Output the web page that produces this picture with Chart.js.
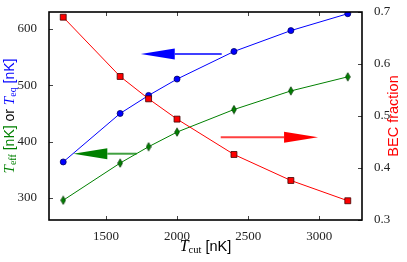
<!DOCTYPE html>
<html>
<head>
<meta charset="utf-8">
<script src="https://cdn.jsdelivr.net/npm/chart.js@4.4.0/dist/chart.umd.min.js"></script>
<style>
  html, body { margin: 0; padding: 0; background: #fff; }
  #c { display: block; }
</style>
</head>
<body>
<canvas id="c" width="407" height="262"></canvas>
<script>
// values
const tCut = [1200, 1600, 1800, 2000, 2400, 2800, 3200];
const tEq = [364, 450, 482, 511, 560, 597, 627];
const tEff = [296, 362, 391, 417, 457, 490, 515];
const becFraction = [0.690, 0.576, 0.533, 0.494, 0.426, 0.376, 0.337];

const xTicks = [1500, 2000, 2500, 3000];
const leftTicks = [300, 400, 500, 600];
const rightTicks = [0.3, 0.4, 0.5, 0.6, 0.7];

// annotation arrows, in data units (tail x, tip x, y, axis)
const arrowTailX = [2314, 1716, 2307];
const arrowTipX = [1745, 1271, 2991];
const arrowY = [555.5, 378.6, 0.459];
const arrowAxis = ['y', 'y', 'y1'];
const arrowColor = ['#0000ff', '#008000', '#ff0000'];

function toPoints(xs, ys) {
    let pts = [];
    for (let i = 0; i < xs.length; i++) {
        pts.push({x: xs[i], y: ys[i]});
    }
    return pts;
}

// thin diamond marker like matplotlib 'd'
function makeDiamond() {
    const cv = document.createElement('canvas');
    cv.width = 6;
    cv.height = 10;
    const g = cv.getContext('2d');
    g.beginPath();
    g.moveTo(3, 0.8);
    g.lineTo(5.4, 5);
    g.lineTo(3, 9.2);
    g.lineTo(0.6, 5);
    g.closePath();
    g.fillStyle = '#008000';
    g.fill();
    g.lineWidth = 0.7;
    g.strokeStyle = '#003000';
    g.stroke();
    return cv;
}

function fixTicks(values) {
    return function(scale) {
        scale.ticks = values.map(v => ({value: v}));
    };
}

const serif = "'Liberation Serif', 'DejaVu Serif', serif";
const sans = "'Liberation Sans', Arial, sans-serif";

// draw a run of text pieces one after another
function drawPieces(ctx, pieces, x, y) {
    let total = 0;
    pieces.forEach(p => { ctx.font = p.font; total += ctx.measureText(p.text).width; });
    let cx = x - total / 2;
    pieces.forEach(p => {
        ctx.font = p.font;
        ctx.fillStyle = p.color;
        ctx.fillText(p.text, cx, y + (p.dy || 0));
        cx += ctx.measureText(p.text).width;
    });
}

const decor = {
    id: 'decor',
    afterDatasetsDraw(chart) {
        const ctx = chart.ctx;
        const xs = chart.scales.x;
        ctx.save();
        for (let i = 0; i < arrowTailX.length; i++) {
            const ys = chart.scales[arrowAxis[i]];
            const x0 = xs.getPixelForValue(arrowTailX[i]);
            const x1 = xs.getPixelForValue(arrowTipX[i]);
            const y = ys.getPixelForValue(arrowY[i]);
            const dir = x1 > x0 ? 1 : -1;
            const headLen = 34;
            const half = 5.5;
            const xb = x1 - dir * headLen;
            ctx.strokeStyle = arrowColor[i];
            ctx.globalAlpha = 0.75;
            ctx.lineWidth = 2;
            ctx.beginPath();
            ctx.moveTo(x0, y);
            ctx.lineTo(xb, y);
            ctx.stroke();
            ctx.globalAlpha = 1;
            ctx.fillStyle = arrowColor[i];
            ctx.beginPath();
            ctx.moveTo(x1, y);
            ctx.lineTo(xb, y - half);
            ctx.lineTo(xb, y + half);
            ctx.closePath();
            ctx.fill();
        }
        ctx.restore();
    },
    afterDraw(chart) {
        const ctx = chart.ctx;
        const a = chart.chartArea;
        const xs = chart.scales.x, yl = chart.scales.y, yr = chart.scales.y1;
        ctx.save();
        // inward ticks
        ctx.strokeStyle = '#444';
        ctx.lineWidth = 1;
        ctx.beginPath();
        xTicks.forEach(v => {
            const px = Math.round(xs.getPixelForValue(v)) + 0.5;
            ctx.moveTo(px, a.bottom); ctx.lineTo(px, a.bottom - 4);
            ctx.moveTo(px, a.top); ctx.lineTo(px, a.top + 4);
        });
        leftTicks.forEach(v => {
            const py = Math.round(yl.getPixelForValue(v)) + 0.5;
            ctx.moveTo(a.left, py); ctx.lineTo(a.left + 4, py);
        });
        rightTicks.forEach(v => {
            const py = Math.round(yr.getPixelForValue(v)) + 0.5;
            ctx.moveTo(a.right, py); ctx.lineTo(a.right - 4, py);
        });
        ctx.stroke();
        // frame
        ctx.strokeStyle = '#000';
        ctx.lineWidth = 1.6;
        ctx.strokeRect(a.left, a.top, a.right - a.left, a.bottom - a.top);

        ctx.textBaseline = 'alphabetic';
        ctx.textAlign = 'left';
        const midX = (a.left + a.right) / 2;
        const midY = (a.top + a.bottom) / 2;
        // x title
        drawPieces(ctx, [
            {text: 'T', font: 'italic 16px ' + serif, color: '#000'},
            {text: 'cut', font: '10.5px ' + serif, color: '#000', dy: 2},
            {text: ' [nK]', font: '14.5px ' + sans, color: '#000'}
        ], midX, 251);
        // left title
        ctx.save();
        ctx.translate(14, midY);
        ctx.rotate(-Math.PI / 2);
        drawPieces(ctx, [
            {text: 'T', font: 'italic 15px ' + serif, color: '#008000'},
            {text: 'eff', font: '10px ' + serif, color: '#008000', dy: 2},
            {text: ' [nK]', font: '14px ' + sans, color: '#008000'},
            {text: ' or ', font: '14px ' + sans, color: '#000'},
            {text: 'T', font: 'italic 15px ' + serif, color: '#0000ff'},
            {text: 'eq', font: '10px ' + serif, color: '#0000ff', dy: 2},
            {text: ' [nK]', font: '14px ' + sans, color: '#0000ff'}
        ], 0, 0);
        ctx.restore();
        // right title
        ctx.save();
        ctx.translate(397.5, midY);
        ctx.rotate(-Math.PI / 2);
        drawPieces(ctx, [
            {text: 'BEC fraction', font: '14.5px ' + sans, color: '#ff0000'}
        ], 0, 0);
        ctx.restore();
        ctx.restore();
    }
};

const tickFont = {family: serif, size: 13};

const chart = new Chart(document.getElementById('c'), {
    type: 'line',
    data: {
        datasets: [
            {
                label: 'Teq',
                data: toPoints(tCut, tEq),
                yAxisID: 'y',
                order: 3,
                borderColor: '#0000ff',
                borderWidth: 1,
                pointStyle: 'circle',
                pointRadius: 3,
                pointBackgroundColor: '#0000ff',
                pointBorderColor: '#000060',
                pointBorderWidth: 0.8,
                tension: 0
            },
            {
                label: 'Teff',
                data: toPoints(tCut, tEff),
                yAxisID: 'y',
                order: 2,
                borderColor: '#008000',
                borderWidth: 1,
                pointStyle: makeDiamond(),
                pointRadius: 4,
                tension: 0
            },
            {
                label: 'BEC fraction',
                data: toPoints(tCut, becFraction),
                yAxisID: 'y1',
                order: 1,
                borderColor: '#ff0000',
                borderWidth: 1,
                pointStyle: 'rect',
                pointRadius: 4.2,
                pointBackgroundColor: '#ff0000',
                pointBorderColor: '#400000',
                pointBorderWidth: 0.8,
                tension: 0
            }
        ]
    },
    options: {
        responsive: false,
        animation: false,
        events: [],
        layout: {padding: {top: 12, left: 0, right: 0, bottom: 0}},
        plugins: {legend: {display: false}, tooltip: {enabled: false}},
        scales: {
            x: {
                type: 'linear',
                position: 'bottom',
                min: 1100,
                max: 3300,
                grid: {display: false},
                border: {display: false},
                ticks: {font: tickFont, color: '#222', padding: 1, maxRotation: 0,
                    callback: v => String(v)},
                afterBuildTicks: fixTicks(xTicks),
                afterFit(scale) { scale.height = 42; }
            },
            y: {
                type: 'linear',
                position: 'left',
                min: 261,
                max: 630,
                grid: {display: false},
                border: {display: false},
                ticks: {font: tickFont, color: '#222', padding: 4,
                    callback: v => String(v)},
                afterBuildTicks: fixTicks(leftTicks),
                afterFit(scale) { scale.width = 49; }
            },
            y1: {
                type: 'linear',
                position: 'right',
                min: 0.3,
                max: 0.7,
                grid: {display: false},
                border: {display: false},
                ticks: {font: tickFont, color: '#222', padding: 4,
                    callback: v => v.toFixed(1)},
                afterBuildTicks: fixTicks(rightTicks),
                afterFit(scale) { scale.width = 45; }
            }
        }
    },
    plugins: [decor]
});
</script>
</body>
</html>
